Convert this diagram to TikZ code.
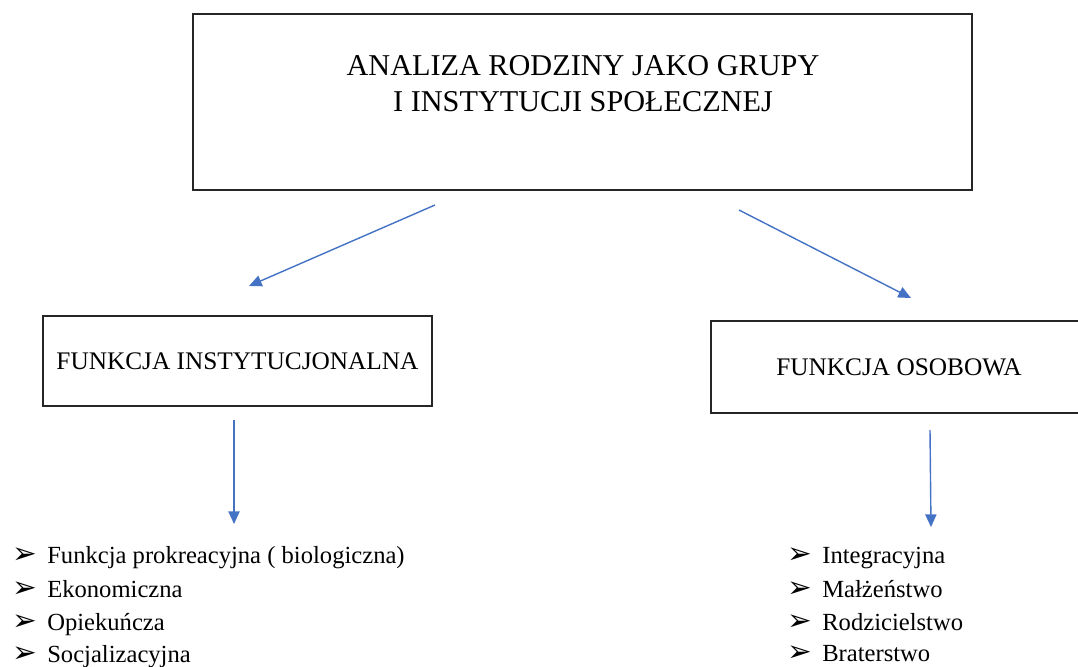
\documentclass[tikz,border=0pt]{standalone}
\usepackage{fontspec}
\setmainfont{Liberation Serif}
\newfontfamily\znakfont{DejaVu Sans}
\usepackage{xcolor}
\usetikzlibrary{arrows.meta}

\definecolor{niebieski}{RGB}{68,114,196}
\newcommand{\punkt}[1]{\makebox[24.9pt][l]{\znakfont\fontsize{21}{21}\selectfont\char"27A2}#1}

\begin{document}
\begin{tikzpicture}[x=0.025cm, y=-0.025cm,
  ramka/.style={draw=black!85, line width=1pt, inner sep=0pt},
  strzalka/.style={draw=niebieski, line width=1pt, -{Triangle[length=9pt,width=8pt]}},
  lista/.style={anchor=base west, inner sep=0pt, font=\fontsize{17.5}{21}\selectfont}]
\useasboundingbox (0,0) rectangle (1078,666);

\node[ramka, minimum width=19.475cm, minimum height=4.4cm] (analiza) at (582.5,102) {};
\node[font=\fontsize{21.5}{25.6}\selectfont, align=center] (tytul) at (583,84) {ANALIZA RODZINY JAKO GRUPY\\I INSTYTUCJI SPOŁECZNEJ};

\node[ramka, minimum width=9.725cm, minimum height=2.25cm, font=\fontsize{18}{22}\selectfont] (instytucjonalna) at (237.5,361) {FUNKCJA INSTYTUCJONALNA};
\node[ramka, minimum width=9.4cm, minimum height=2.3cm, font=\fontsize{18}{22}\selectfont] (osobowa) at (899,367) {FUNKCJA OSOBOWA};

% strzalki
\coordinate (a1) at (435,205);
\coordinate (a2) at (249,286);
\coordinate (b1) at (739,210);
\coordinate (b2) at (911,298);
\coordinate (c1) at (234,420);
\coordinate (c2) at (234,524);
\coordinate (d1) at (930,430);
\coordinate (d2) at (931,527);
\draw[strzalka] (a1) -- (a2);
\draw[strzalka] (b1) -- (b2);
\draw[strzalka] (c1) -- (c2);
\draw[strzalka] (d1) -- (d2);

% listy
\node[lista] (l1) at (12,563) {\punkt{Funkcja prokreacyjna ( biologiczna)}};
\node[lista] (l2) at (12,597) {\punkt{Ekonomiczna}};
\node[lista] (l3) at (12,630) {\punkt{Opiekuńcza}};
\node[lista] (l4) at (12,662) {\punkt{Socjalizacyjna}};

\node[lista] (p1) at (787,563) {\punkt{Integracyjna}};
\node[lista] (p2) at (787,597) {\punkt{Małżeństwo}};
\node[lista] (p3) at (787,630) {\punkt{Rodzicielstwo}};
\node[lista] (p4) at (787,661) {\punkt{Braterstwo}};
\end{tikzpicture}
\end{document}
